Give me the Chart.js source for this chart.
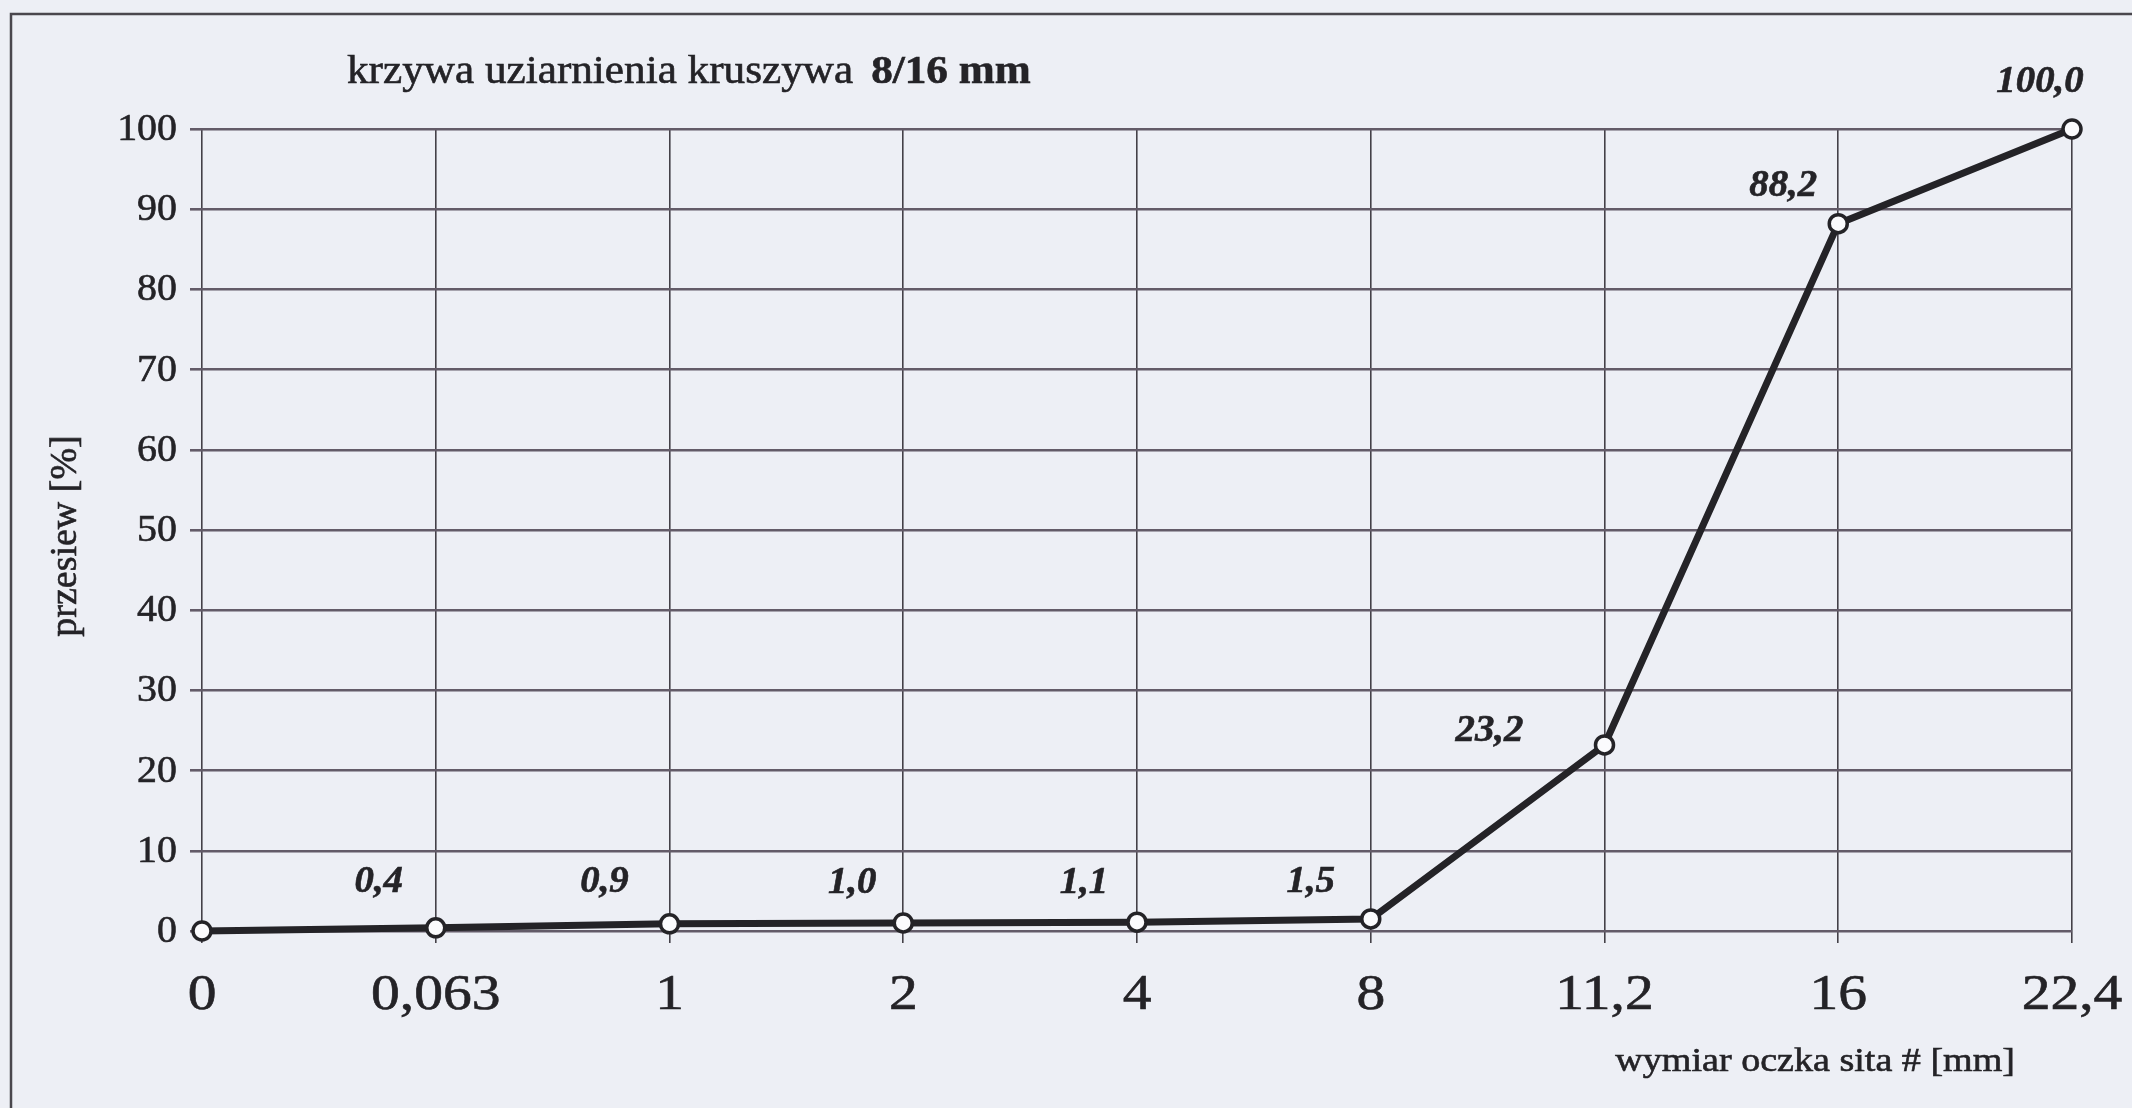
<!DOCTYPE html>
<html>
<head>
<meta charset="utf-8">
<script src="https://cdn.jsdelivr.net/npm/chart.js@4.4.1/dist/chart.umd.min.js"></script>
<style>
  html, body { margin: 0; padding: 0; background: #edeff5; }
  canvas { display: block; }
</style>
</head>
<body>
<canvas id="gradingChart" width="2132" height="1108"></canvas>
<script>
// sieve sizes (x axis categories) and passing percentages
const sieveSizes = ['0', '0,063', '1', '2', '4', '8', '11,2', '16', '22,4'];
const passing = [0, 0.4, 0.9, 1.0, 1.1, 1.5, 23.2, 88.2, 100.0];
const yTickValues = [0, 10, 20, 30, 40, 50, 60, 70, 80, 90, 100];

// where each value label sits relative to its point (null = no label)
const labelOffsets = [null, [-57, -45], [-65, -41], [-51, -40], [-53, -39], [-60, -37], [-115, -13], [-55, -37], [-32, -47]];

const ink = '#242327';
const serif = '"Liberation Serif", "Times New Roman", serif';

function stretchText(ctx, text, x, y, font, align, sx) {
    ctx.save();
    ctx.translate(x, y);
    ctx.scale(sx, 1);
    ctx.font = font;
    ctx.textAlign = align;
    ctx.lineWidth = 0.6;
    ctx.strokeStyle = ink;
    ctx.fillText(text, 0, 0);
    ctx.strokeText(text, 0, 0);
    ctx.restore();
}

const paperPlugin = {
    id: 'paper',
    beforeDraw(chart) {
        const ctx = chart.ctx;
        ctx.save();
        ctx.fillStyle = '#edeff5';
        ctx.fillRect(0, 0, chart.width, chart.height);
        ctx.strokeStyle = '#4a474d';
        ctx.lineWidth = 2.5;
        ctx.beginPath();
        ctx.moveTo(11, chart.height + 5);
        ctx.lineTo(11, 14);
        ctx.lineTo(chart.width + 5, 14);
        ctx.stroke();
        ctx.restore();
    }
};

const textPlugin = {
    id: 'texts',
    afterDraw(chart) {
        const ctx = chart.ctx;
        const xs = chart.scales.x;
        const ys = chart.scales.y;
        ctx.save();
        ctx.fillStyle = ink;
        ctx.textBaseline = 'middle';

        // y tick labels
        yTickValues.forEach(v => {
            stretchText(ctx, String(v), 177, ys.getPixelForValue(v) + 1, '38px ' + serif, 'right', 1.05);
        });
        // x tick labels
        sieveSizes.forEach((s, i) => {
            stretchText(ctx, s, xs.getPixelForTick(i), 996, '50px ' + serif, 'center', 1.15);
        });

        // value labels
        const meta = chart.getDatasetMeta(0);
        meta.data.forEach((pt, i) => {
            const off = labelOffsets[i];
            if (!off) return;
            const txt = passing[i].toFixed(1).replace('.', ',');
            stretchText(ctx, txt, pt.x + off[0], pt.y + off[1], 'italic bold 37px ' + serif, 'center', 1.05);
        });

        // title
        ctx.textBaseline = 'alphabetic';
        const sx = 1.08;
        ctx.font = '40px ' + serif;
        const part1 = 'krzywa uziarnienia kruszywa';
        const w1 = ctx.measureText(part1).width * sx;
        stretchText(ctx, part1, 347, 83, '40px ' + serif, 'left', sx);
        stretchText(ctx, '8/16 mm', 347 + w1 + 18, 83, 'bold 40px ' + serif, 'left', sx);

        // x axis title
        stretchText(ctx, 'wymiar oczka sita # [mm]', 2015, 1071, '34px ' + serif, 'right', 1.12);

        // y axis title
        ctx.save();
        ctx.translate(76, 536);
        ctx.rotate(-Math.PI / 2);
        ctx.font = '38px ' + serif;
        ctx.textAlign = 'center';
        ctx.textBaseline = 'alphabetic';
        ctx.lineWidth = 0.6;
        ctx.strokeStyle = ink;
        ctx.fillText('przesiew [%]', 0, 0);
        ctx.strokeText('przesiew [%]', 0, 0);
        ctx.restore();

        ctx.restore();
    }
};

new Chart(document.getElementById('gradingChart').getContext('2d'), {
    type: 'line',
    data: {
        labels: sieveSizes,
        datasets: [{
            data: passing,
            borderColor: ink,
            borderWidth: 7,
            tension: 0,
            pointRadius: 9,
            pointHoverRadius: 9,
            pointBorderWidth: 3.5,
            pointBackgroundColor: '#fbfbfd',
            pointBorderColor: ink,
            clip: false
        }]
    },
    options: {
        responsive: false,
        animation: false,
        events: [],
        layout: { padding: { left: 202, right: 60, top: 129, bottom: 177 } },
        plugins: {
            legend: { display: false },
            tooltip: { enabled: false },
            title: { display: false }
        },
        scales: {
            x: {
                type: 'category',
                offset: false,
                ticks: { display: false },
                grid: { color: '#444148', lineWidth: 1.6, tickLength: 12, drawTicks: true, offset: false },
                border: { display: false },
                afterFit: scale => { scale.height = 0; }
            },
            y: {
                min: 0,
                max: 100,
                ticks: { display: false, stepSize: 10 },
                grid: { color: '#635b68', lineWidth: 2.6, tickLength: 12, drawTicks: true },
                border: { display: false },
                afterFit: scale => { scale.width = 0; }
            }
        }
    },
    plugins: [paperPlugin, textPlugin]
});
</script>
</body>
</html>
